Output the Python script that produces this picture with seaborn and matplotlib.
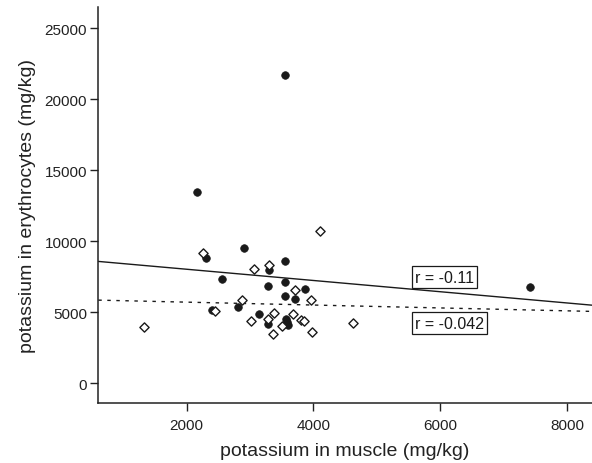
import numpy as np
import pandas as pd
import matplotlib
matplotlib.use("Agg")
import matplotlib.pyplot as plt
import seaborn as sns

# --- data ---
muscle_filled = [2158, 2299, 2903, 3301, 3553, 3550, 2561, 3280, 3553, 3868,
                 3548, 3706, 2803, 2394, 3134, 3291, 3564, 3584, 3600, 7407]
eryth_filled = [13500, 8800, 9546, 7997, 8589, 21700, 7343, 6850, 7110, 6639,
                6125, 5914, 5372, 5182, 4900, 4154, 4527, 4294, 4104, 6802]

muscle_open = [2257, 4095, 3055, 3296, 3701, 3962, 2866, 2451, 3370, 3685,
               3017, 3276, 3501, 3805, 3843, 3355, 3978, 4630, 1327]
eryth_open = [9195, 10743, 8047, 8350, 6568, 5843, 5864, 5090, 4970, 4858,
              4386, 4548, 4034, 4435, 4365, 3471, 3633, 4266, 3985]

# fitted lines (intercept, slope) and correlation labels
fit_filled = (8831, -0.396)
fit_open = (5926, -0.102)
r_filled = "r = -0.11"
r_open = "r = -0.042"

xlim = (608, 8390)
ylim = (-1390, 26480)
xticks = [2000, 4000, 6000, 8000]
yticks = [0, 5000, 10000, 15000, 20000, 25000]

df = pd.DataFrame({
    "muscle": muscle_filled + muscle_open,
    "eryth": eryth_filled + eryth_open,
    "group": ["filled"] * len(muscle_filled) + ["open"] * len(muscle_open),
})

sns.set_style("ticks")
plt.rcParams["font.family"] = ["Liberation Sans", "DejaVu Sans"]

fig = plt.figure(figsize=(5.92, 4.64), dpi=100)
ax = fig.add_axes([0.166, 0.129, 0.834, 0.853])

sns.scatterplot(data=df[df.group == "filled"], x="muscle", y="eryth", ax=ax,
                marker="o", s=30, color="#1a1a1a", edgecolor="#1a1a1a",
                linewidth=0.5, zorder=3, legend=False)
sns.scatterplot(data=df[df.group == "open"], x="muscle", y="eryth", ax=ax,
                marker="D", s=22, facecolor="white", edgecolor="#1a1a1a",
                linewidth=1.0, zorder=3, legend=False)

xs = np.array(xlim)
ax.plot(xs, fit_filled[0] + fit_filled[1] * xs, color="#1a1a1a", lw=1.0, zorder=2)
ax.plot(xs, fit_open[0] + fit_open[1] * xs, color="#1a1a1a", lw=1.0,
        linestyle=(0, (2.5, 4)), zorder=2)

box = dict(boxstyle="square,pad=0.2", facecolor="white", edgecolor="#1a1a1a", lw=0.9)
ax.text(5600, 7480, r_filled, fontsize=11.5, color="#1a1a1a", va="center",
        ha="left", bbox=box)
ax.text(5600, 4245, r_open, fontsize=11.5, color="#1a1a1a", va="center",
        ha="left", bbox=box)

ax.set_xlim(*xlim)
ax.set_ylim(*ylim)
ax.set_xticks(xticks)
ax.set_yticks(yticks)
ax.set_xlabel("potassium in muscle (mg/kg)", fontsize=14, color="#222222", labelpad=7)
ax.set_ylabel("potassium in erythrocytes (mg/kg)", fontsize=14, color="#222222", labelpad=6)
ax.tick_params(axis="both", direction="out", length=6, width=1,
               labelsize=11, colors="#222222", pad=2)
ax.tick_params(axis="x", pad=5)
sns.despine(ax=ax)
for sp in ["left", "bottom"]:
    ax.spines[sp].set_linewidth(1.1)
    ax.spines[sp].set_color("#222222")

fig.savefig("out.png", dpi=100)
